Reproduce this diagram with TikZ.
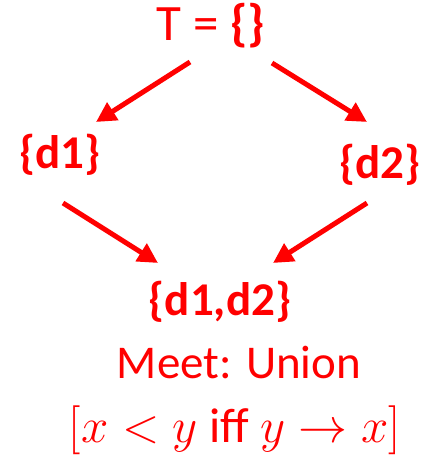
\RequirePackage{fix-cm}
\documentclass[tikz,border=0pt]{standalone}
\usepackage{amsmath}
\usepackage{fontspec}
\setmainfont{Carlito}
\usetikzlibrary{positioning,arrows.meta}
\tikzset{
  every node/.style={text=red, font=\fontsize{47}{56}\selectfont},
  setnode/.style={font=\fontsize{47}{56}\selectfont\bfseries},
  order/.style={draw=red, line width=5pt, -{Triangle[length=20pt,width=20pt]}}
}
\begin{document}
\begin{tikzpicture}[x=1pt, y=1pt, on grid]
    \useasboundingbox (0,0) rectangle (426,-462);
    \node[font=\fontsize{51}{60}\selectfont] (top) at (211,-26) {T = \textbf{\{\}}};
    \node[setnode, below left=129pt and 151pt of top] (d1) {\{d1\}};
    \node[setnode, below right=139pt and 169pt of top] (d2) {\{d2\}};
    \node[setnode, below right=147pt and 160pt of d1] (bot) {\{d1,d2\}};
    \node[below right=61pt and 19pt of bot] (meet) {Meet: Union};
    \node[font=\fontsize{49}{58}\selectfont, below left=67pt and 4pt of meet] (rule) {$[x < y \text{ iff } y \to x]$};
    \draw[order] ([shift={(-21,-36)}]top.center) -- ([shift={(36,33)}]d1.center);
    \draw[order] ([shift={(61,-37)}]top.center) -- ([shift={(-13,43)}]d2.center);
    \draw[order] ([shift={(3,-48)}]d1.center) -- ([shift={(-62,39)}]bot.center);
    \draw[order] ([shift={(-13,-38)}]d2.center) -- ([shift={(53,39)}]bot.center);
\end{tikzpicture}
\end{document}
